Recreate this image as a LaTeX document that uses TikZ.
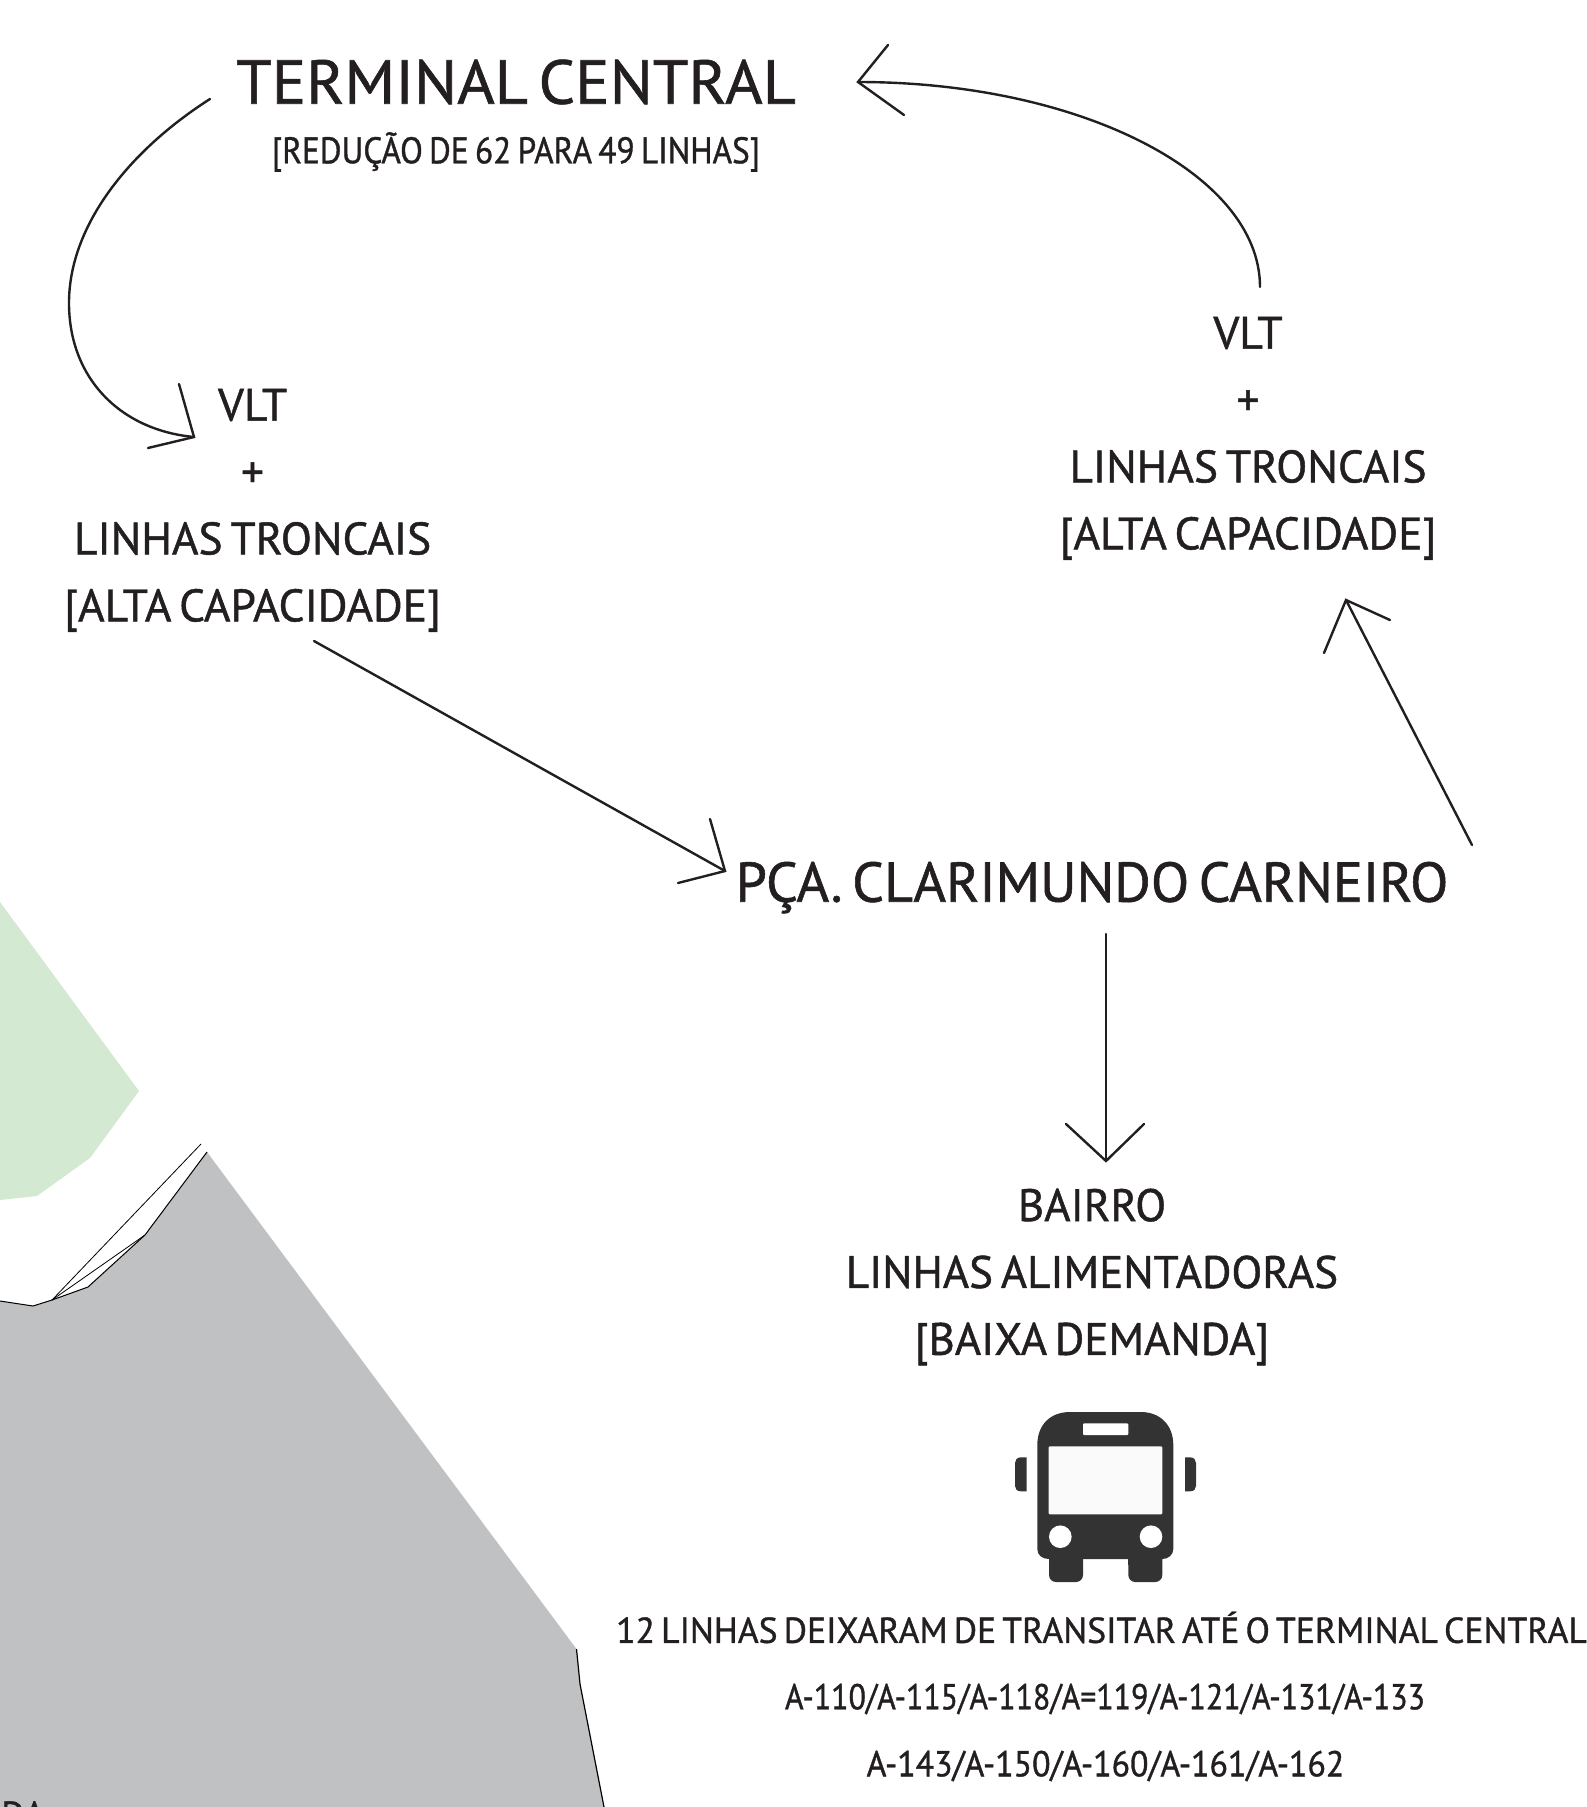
\documentclass[tikz,border=0pt]{standalone}
\usepackage{fontspec}
\setmainfont[FakeBold=1.0]{PT Sans}
\definecolor{ink}{HTML}{231F20}
\definecolor{busink}{HTML}{333333}
\definecolor{grayzone}{HTML}{C0C1C3}
\definecolor{greenzone}{HTML}{D3E9D1}
\newcommand{\dinfont}[3]{\fontsize{#1}{#2}\selectfont\addfontfeature{FakeStretch=#3}\spaceskip=.17em\relax}
\tikzset{
  lab/.style={text=ink,inner sep=0pt,align=center,anchor=center},
  big/.style={lab,font=\dinfont{62}{70}{1.036}},
  med/.style={lab,font=\dinfont{45.5}{66.9}{1.0}},
  conn/.style={draw=ink,line width=2.4pt,line cap=round,line join=miter},
  edge/.style={draw=black,line width=1pt},
}
\begin{document}
\begin{tikzpicture}[x=1pt,y=-1pt]
\useasboundingbox (0,0) rectangle (1587,1807);
% map zones
\fill[greenzone] (0,902) -- (139,1091) -- (90,1158) -- (37,1196) -- (0,1200) -- cycle;
\fill[grayzone] (0,1301) -- (33,1306) -- (52,1300) -- (88,1287) -- (145,1235) -- (207,1152) -- (576.5,1649) -- (580,1684) -- (604,1807) -- (0,1807) -- cycle;
\draw[edge] (0,1301) -- (33,1306) -- (52,1300) -- (88,1287) -- (145,1235) -- (207,1152);
\draw[edge,line width=.8pt] (52,1300) -- (145,1235);
\draw[edge,line width=.8pt] (52,1300) -- (201,1144);
\draw[edge,line width=1.2pt] (576.5,1649) -- (580,1684) -- (604,1807);
% labels
\node[big] (terminal) at (516,82) {TERMINAL CENTRAL};
\node[lab,font=\dinfont{37}{44}{.9}] (reducao) at (516,152) {[REDUÇÃO DE 62 PARA 49 LINHAS]};
\node[med] (vltL) at (252.6,510.3) {VLT\\+\\LINHAS TRONCAIS\\[0pt][ALTA CAPACIDADE]};
\node[med] (vltR) at (1248,438.3) {VLT\\+\\LINHAS TRONCAIS\\[0pt][ALTA CAPACIDADE]};
\node[lab,font=\dinfont{56}{64}{1.0}] (pca) at (1092,887.6) {PÇA. CLARIMUNDO CARNEIRO};
\node[lab,font=\dinfont{45.5}{66.9}{.99}] (bairro) at (1092,1277) {BAIRRO\\LINHAS ALIMENTADORAS\\[0pt][BAIXA DEMANDA]};
\node[lab,font=\dinfont{36}{44}{.99}] (linhas12) at (1101.5,1627.4) {12 LINHAS DEIXARAM DE TRANSITAR ATÉ O TERMINAL CENTRAL};
\node[lab,font=\dinfont{36}{44}{.885}] (rotas1) at (1105,1699) {A-110/A-115/A-118/A=119/A-121/A-131/A-133};
\node[lab,font=\dinfont{36}{44}{.94}] (rotas2) at (1105.5,1766) {A-143/A-150/A-160/A-161/A-162};
\node[lab,font=\dinfont{36}{44}{1.0},anchor=north west] (cutoff) at (1,1801) {DA};
% connectors
\coordinate (tipA) at ([shift={(342,0)}]terminal.center);
\draw[conn] ([shift={(12,-151.3)}]vltR.center) .. controls +(0,-113) and (1080,82) .. (tipA);
\draw[conn] ([shift={(30,-37)}]tipA) -- (tipA) -- ([shift={(46,33)}]tipA);
\coordinate (tipB) at ([shift={(-58.6,-73.3)}]vltL.center);
\draw[conn] ([shift={(-306,17)}]terminal.center) .. controls (130,150) and (69,225) .. (69,303) .. controls (69,378) and (120,430) .. (tipB);
\draw[conn] ([shift={(-15,-53)}]tipB) -- (tipB) -- ([shift={(-46,11)}]tipB);
\coordinate (tipC) at ([shift={(-367,-16.6)}]pca.center);
\draw[conn] ([shift={(61.4,130.7)}]vltL.center) -- (tipC);
\draw[conn] ([shift={(-15,-52)}]tipC) -- (tipC) -- ([shift={(-47,12)}]tipC);
\coordinate (tipD) at ([shift={(98,161.7)}]vltR.center);
\draw[conn] ([shift={(380,-42.6)}]pca.center) -- (tipD);
\draw[conn] ([shift={(-22,53)}]tipD) -- (tipD) -- ([shift={(44,20)}]tipD);
\coordinate (tipE) at ([shift={(14,-116)}]bairro.center);
\draw[conn] ([shift={(14,46.4)}]pca.center) -- (tipE);
\draw[conn] ([shift={(-40,-37)}]tipE) -- (tipE) -- ([shift={(38,-37)}]tipE);
% bus icon
\fill[busink] (1037.3,1445) .. controls (1037.3,1425) and (1050,1412) .. (1070,1412) -- (1141,1412) .. controls (1160,1412) and (1173.3,1425) .. (1173.3,1445) -- (1173.3,1549) .. controls (1173.3,1555) and (1168,1559) .. (1162.3,1559) -- (1049,1559) .. controls (1042,1559) and (1037.3,1555) .. (1037.3,1549) -- cycle;
\fill[busink,rounded corners=7pt] (1049,1550) rectangle (1083,1582);
\fill[busink,rounded corners=7pt] (1128.3,1550) rectangle (1162.3,1582);
\fill[busink] (1049,1550) rectangle (1083,1565);
\fill[busink] (1128.3,1550) rectangle (1162.3,1565);
\fill[busink] (1026.7,1457.3) -- (1021,1457.3) .. controls (1017,1457.3) and (1015,1460) .. (1015,1463) -- (1015,1486) .. controls (1015,1489) and (1017,1491.3) .. (1021,1491.3) -- (1026.7,1491.3) -- cycle;
\fill[busink] (1185,1457.3) -- (1190,1457.3) .. controls (1194,1457.3) and (1196,1460) .. (1196,1463) -- (1196,1486) .. controls (1196,1489) and (1194,1491.3) .. (1190,1491.3) -- (1185,1491.3) -- cycle;
\fill[white!98!black,rounded corners=1pt] (1048.7,1446.3) rectangle (1162.3,1514.3);
\fill[white,rounded corners=1pt] (1083,1423.3) rectangle (1128.3,1435);
\fill[white] (1060.3,1536.7) circle (11.3);
\fill[white] (1151,1536.7) circle (11.3);
\end{tikzpicture}
\end{document}
